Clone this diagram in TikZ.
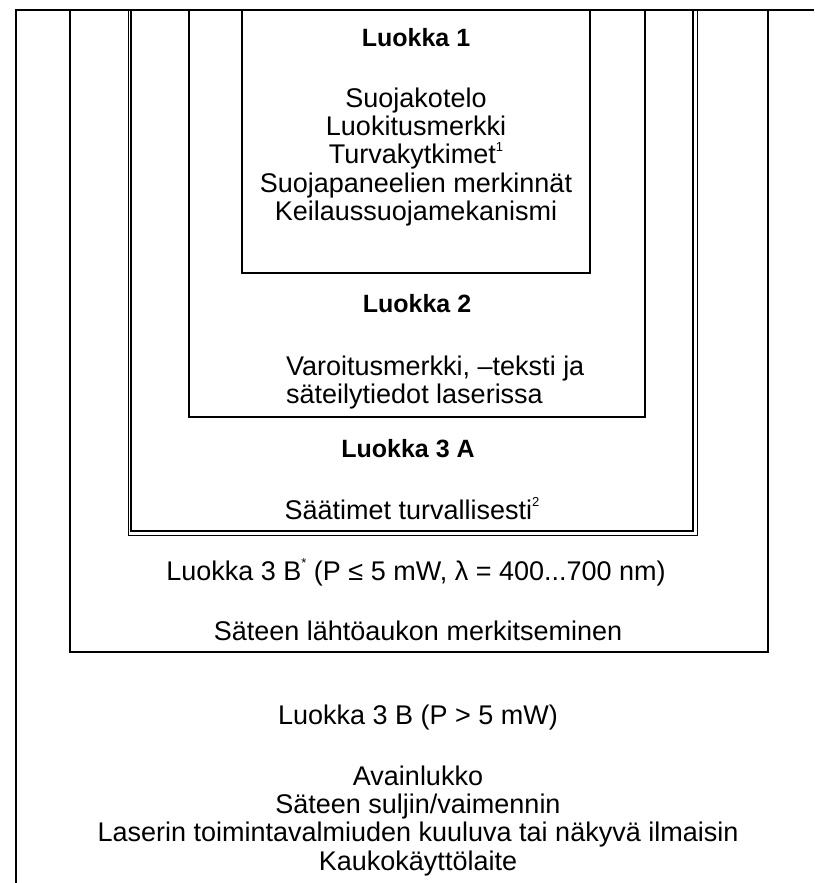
\documentclass[tikz,border=0pt]{standalone}
\usepackage{fontspec}
\setmainfont{Liberation Sans}
\newcommand\ylaindeksi[1]{\raisebox{0.85ex}{\fontsize{13}{13}\selectfont #1}}
\tikzset{
  raja/.style={line width=1.5pt,line join=miter},
  ohutraja/.style={line width=1pt},
  otsikko/.style={anchor=base,inner sep=0pt,font=\fontsize{25}{28}\selectfont\bfseries},
  rivi/.style={anchor=base,inner sep=0pt,font=\fontsize{27}{28}\selectfont},
}
\begin{document}
\begin{tikzpicture}[x=1pt,y=-1pt]
	\useasboundingbox (0,0) rectangle (814,883);
	\draw[raja] (16,883) -- (16,10) -- (814,10);
	\draw[raja] (70,10) |- (768,652) -- (768,10);
	\draw[ohutraja] (128,10) |- (697,535) -- (697,10);
	\draw[raja] (131,10) |- (693,531) -- (693,10);
	\draw[raja] (189,10) |- (645,417) -- (645,10);
	\draw[raja] (242,10) |- (590,273) -- (590,10);

	\node[otsikko] (luokka1) at (416,47) {Luokka 1};
	\foreach \teksti [count=\i] in {Suojakotelo, Luokitusmerkki, Turvakytkimet\ylaindeksi{1}, Suojapaneelien merkinnät, Keilaussuojamekanismi}
	  \node[rivi] (l1-\i) at (416,79+28.3*\i) {\teksti};

	\node[otsikko] (luokka2) at (417,312) {Luokka 2};
	\node[rivi,anchor=base west] (l2-1) at (286,375) {Varoitusmerkki, –teksti ja};
	\node[rivi,anchor=base west] (l2-2) at (286,403) {säteilytiedot laserissa};

	\node[otsikko] (luokka3a) at (408,457) {Luokka 3 A};
	\node[rivi] (l3a) at (412,519) {Säätimet turvallisesti\ylaindeksi{2}};

	\node[rivi] (luokka3bt) at (416,580) {Luokka 3 B\ylaindeksi{*} (P ≤ 5 mW, λ = 400...700 nm)};
	\node[rivi] (l3bt) at (418,640) {Säteen lähtöaukon merkitseminen};

	\node[rivi] (luokka3b) at (418,724) {Luokka 3 B (P > 5 mW)};
	\foreach \teksti [count=\i] in {Avainlukko, Säteen suljin/vaimennin, Laserin toimintavalmiuden kuuluva tai näkyvä ilmaisin, Kaukokäyttölaite}
	  \node[rivi] (l3b-\i) at (418,757+28.3*\i) {\teksti};
\end{tikzpicture}
\end{document}
